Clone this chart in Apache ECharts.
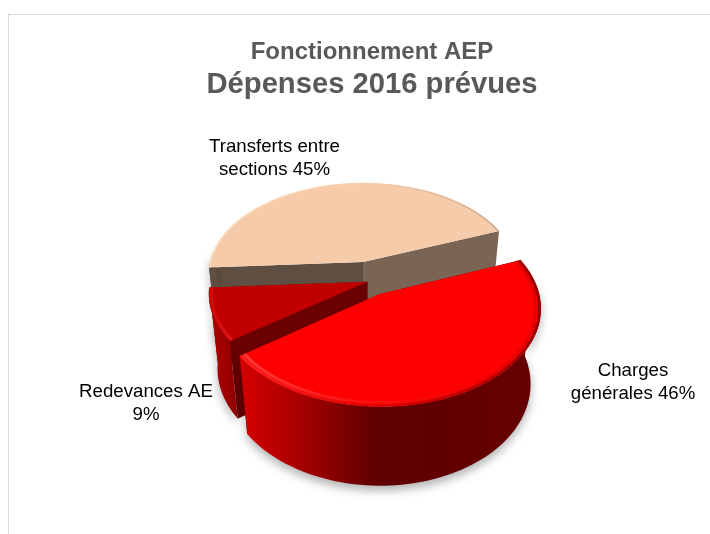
<!DOCTYPE html>
<html><head><meta charset="utf-8">
<style>html,body{margin:0;padding:0;background:#fff}#c{width:710px;height:534px}</style>
<script src="https://cdn.jsdelivr.net/npm/echarts@6/dist/echarts.min.js"></script>
</head><body><div id="c"></div>
<script>
// --- data (drawn back to front, going counter-clockwise on screen)
const categories = ['Transferts entre sections', 'Redevances AE', 'Charges générales'];
const labelLead  = [['Transferts entre', 'sections'], ['Redevances AE', ''], ['Charges', 'générales']];
const percents   = [45, 9, 46];

// --- layout and look
const START = 21.5, CX = 363, CY = 262, SCALE = 153, ELEV = 35.5 * Math.PI / 180, DIST = 6.4, THICK = 0.63;
const explode = [[0, 0], [0.028, -0.215], [0.1, -0.347]];
const labelPos = [[274.5, 158], [146, 403.5], [633, 382.5]];
const looks = [
  { top: '#F6CBAA', wallA: '#5F4F42', wallB: '#7A6555', arc: [[0, '#5F4F42'], [1, '#5F4F42']],
    rims: [{ r: 0.995, w: 1.5, stops: [[0, '#FFDDBB'], [0.6, '#F6CBAA'], [1, '#C8A58A']] }] },
  { top: '#C00000', wallA: '#6B0000', wallB: '#6B0000', arc: [[0, '#A80000'], [0.5, '#A00000'], [1, '#8E0000']],
    rims: [{ r: 0.985, w: 3, stops: [[0, '#C80808'], [1, '#E81818']] }] },
  { top: '#FF0000', wallA: '#6B0000', wallB: '#6B0000', arc: [[0, '#D40000'], [0.2, '#A80000'], [0.45, '#600000'], [1, '#640000']],
    rims: [
      { r: 0.97, w: 3, stops: [[0, '#FF3A3A'], [0.4, '#FF1010'], [0.8, '#F40000'], [1, '#E00000']] },
      { r: 0.992, w: 3, stops: [[0, '#FF2020'], [0.45, '#E00000'], [0.8, '#B80000'], [1, '#960000']] }
    ] }
];

const total = percents.reduce((a, b) => a + b, 0);
function project(x, y, z) {
  const depth = DIST + y * Math.cos(ELEV) - z * Math.sin(ELEV);
  const k = SCALE * DIST / depth;
  return [CX + x * k, CY - (y * Math.sin(ELEV) + z * Math.cos(ELEV)) * k];
}
function arc(a0, a1, off, z, r) {
  const pts = [], n = Math.max(1, Math.ceil(Math.abs(a1 - a0) / 2));
  for (let i = 0; i <= n; i++) {
    const t = (a0 + (a1 - a0) * i / n) * Math.PI / 180;
    pts.push(project(off[0] + r * Math.cos(t), off[1] + r * Math.sin(t), z));
  }
  return pts;
}
function hGrad(stops) {
  return new echarts.graphic.LinearGradient(0, 0, 1, 0, stops.map(s => ({ offset: s[0], color: s[1] })));
}
function renderSlice(params, api) {
  const i = api.value(0), v = api.value(1);
  let before = 0;
  for (let j = 0; j < i; j++) before += percents[j];
  const a0 = START + before / total * 360, a1 = a0 + v / total * 360;
  const off = explode[i], look = looks[i];
  const topArc = arc(a0, a1, off, 0, 1), botArc = arc(a0, a1, off, -THICK, 1);
  const apexT = project(off[0], off[1], 0), apexB = project(off[0], off[1], -THICK);
  const wall = (p, q, fill) => ({ type: 'polygon', shape: { points: [apexT, p, q, apexB] }, style: { fill } });
  // only the part of the rim that faces the viewer gets an outer wall
  const f0 = Math.max(a0, 172), f1 = Math.min(a1, 368);
  const kids = [
    wall(topArc[0], botArc[0], look.wallB),
    wall(topArc[topArc.length - 1], botArc[botArc.length - 1], look.wallA)
  ];
  if (f1 > f0) {
    kids.push({ type: 'polygon',
      shape: { points: arc(f0, f1, off, 0, 1).concat(arc(f0, f1, off, -THICK, 1).reverse()) },
      style: { fill: hGrad(look.arc), shadowColor: 'rgba(0,0,0,0.3)', shadowBlur: 10, shadowOffsetY: 5 } });
  }
  kids.push({ type: 'polygon', shape: { points: [apexT].concat(topArc) }, style: { fill: look.top } });
  look.rims.forEach(rim => kids.push({
    type: 'polyline', shape: { points: arc(a0, a1, off, 0, rim.r) },
    style: { fill: null, stroke: hGrad(rim.stops), lineWidth: rim.w }
  }));
  kids.push({ type: 'text', style: {
    text: labelLead[i].map((s, k) => k === 1 ? (s ? s + ' ' : '') + v + '%' : s).join('\n'),
    x: labelPos[i][0], y: labelPos[i][1], align: 'center', verticalAlign: 'middle',
    fontFamily: 'Liberation Sans', fontSize: 18.67, lineHeight: 23, fill: '#000' } });
  return { type: 'group', children: kids };
}

const chart = echarts.init(document.getElementById('c'), null, { renderer: 'canvas' });
chart.setOption({
  animation: false,
  backgroundColor: '#fff',
  title: {
    text: '{a|Fonctionnement AEP}\n{b|Dépenses 2016 prévues}',
    left: 367, top: 33, textAlign: 'center',
    textStyle: { rich: {
      a: { fontFamily: 'Liberation Sans', fontWeight: 'bold', fontSize: 24, color: '#595959', lineHeight: 29, align: 'center' },
      b: { fontFamily: 'Liberation Sans', fontWeight: 'bold', fontSize: 29.2, color: '#595959', lineHeight: 36, align: 'center' }
    } }
  },
  graphic: [
    { type: 'line', shape: { x1: 9, y1: 14.5, x2: 710, y2: 14.5 }, style: { stroke: '#D9D9D9', lineWidth: 1 } },
    { type: 'line', shape: { x1: 8.5, y1: 14, x2: 8.5, y2: 534 }, style: { stroke: '#D9D9D9', lineWidth: 1 } }
  ],
  series: [{
    type: 'custom',
    coordinateSystem: 'none',
    renderItem: renderSlice,
    data: percents.map((p, i) => ({ name: categories[i], value: [i, p] })),
    silent: true
  }]
});
</script></body></html>
